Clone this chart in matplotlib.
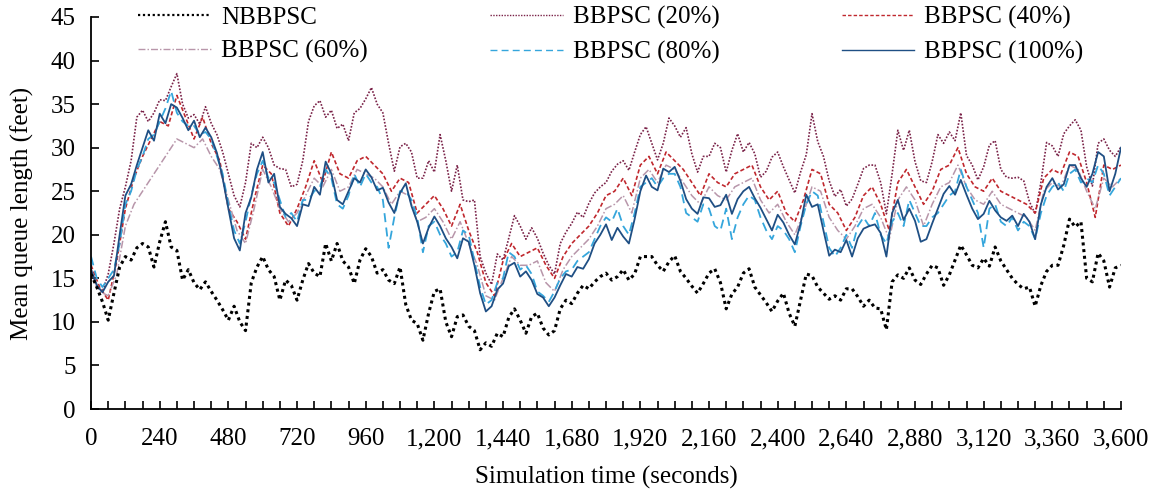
import matplotlib
matplotlib.use("Agg")
import matplotlib.pyplot as plt
import numpy as np

# time grids (seconds)
t20 = np.arange(0, 3601, 20)
t30 = np.arange(0, 3601, 30)

# NBBPSC, 20 s grid
nbbpsc = [15.5, 14.0, 12.3, 10.2, 13.3, 16.3, 17.5, 17.1, 18.5, 19.0, 18.6, 16.3, 19.2, 21.5, 18.6, 18.2,
          14.8, 16.0, 14.5, 13.7, 14.6, 13.5, 12.5, 11.4, 10.2, 11.8, 10.0, 9.0, 14.5, 16.3, 17.5, 16.0,
          15.2, 12.5, 14.8, 14.2, 12.5, 14.8, 16.7, 15.6, 15.2, 19.0, 17.0, 19.0, 17.0, 16.3, 14.4, 17.1,
          18.4, 17.5, 15.6, 16.0, 14.8, 14.4, 16.3, 12.0, 10.2, 9.8, 7.9, 11.0, 13.5, 13.8, 10.0, 8.3,
          10.6, 10.8, 9.5, 9.0, 6.8, 7.6, 7.2, 8.7, 8.3, 10.5, 11.5, 10.2, 8.7, 10.6, 11.0, 9.3,
          8.5, 9.0, 11.5, 12.5, 12.1, 13.3, 14.2, 13.8, 14.6, 15.2, 15.6, 14.8, 15.2, 16.0, 14.8, 15.5,
          17.5, 17.5, 17.5, 16.5, 15.8, 16.9, 17.6, 15.8, 15.0, 14.1, 13.3, 14.4, 15.6, 16.1, 14.5, 11.5,
          13.2, 14.0, 15.6, 16.1, 14.0, 13.1, 12.2, 11.2, 12.4, 13.3, 11.0, 9.5, 12.5, 15.5, 15.3, 14.0,
          13.3, 12.6, 13.0, 12.5, 13.8, 13.8, 12.9, 11.8, 12.5, 11.6, 11.5, 9.1, 14.6, 15.4, 15.0, 16.2,
          14.8, 14.3, 15.5, 16.5, 16.2, 14.2, 15.4, 17.1, 18.8, 17.7, 16.5, 16.2, 17.3, 16.4, 18.6, 17.0,
          16.0, 15.0, 14.3, 13.8, 14.0, 11.8, 14.2, 15.8, 16.5, 16.5, 18.8, 21.8, 20.9, 21.5, 15.0, 14.6,
          17.9, 17.0, 14.0, 16.2, 16.5]

# BBPSC (20%), 20 s grid
bb20 = [16.0, 14.0, 13.5, 15.5, 19.0, 23.0, 25.5, 28.5, 33.5, 34.3, 33.0, 34.0, 35.5, 35.4, 37.0, 38.5,
        35.0, 33.4, 33.8, 32.7, 34.7, 32.8, 31.5, 29.5, 27.0, 24.5, 23.2, 26.0, 30.5, 30.0, 31.2, 30.0,
        28.0, 27.6, 27.5, 25.5, 25.8, 28.5, 33.0, 34.8, 35.4, 33.5, 34.3, 32.2, 32.7, 30.8, 34.0, 34.5,
        35.6, 36.9, 35.0, 34.0, 30.5, 27.3, 30.1, 30.5, 29.5, 26.5, 26.5, 28.5, 27.2, 31.5, 28.5, 25.0,
        28.0, 24.0, 23.8, 24.0, 17.5, 15.6, 14.3, 17.8, 17.1, 19.6, 22.2, 21.0, 19.5, 20.8, 19.6, 17.9,
        16.5, 15.5, 19.0, 20.3, 21.3, 22.6, 22.0, 23.6, 24.8, 25.5, 26.0, 27.3, 28.1, 28.5, 27.4, 29.5,
        31.5, 32.4, 30.5, 28.6, 30.5, 33.4, 32.5, 31.2, 32.3, 29.3, 27.2, 29.0, 29.0, 30.5, 30.0, 27.2,
        29.7, 31.6, 29.5, 30.6, 29.3, 26.6, 27.3, 28.9, 29.5, 27.8, 26.3, 24.8, 27.2, 29.2, 33.9, 30.7,
        29.0, 26.2, 24.4, 25.2, 23.3, 24.1, 25.8, 27.6, 28.0, 28.0, 26.0, 22.4, 27.0, 32.0, 29.7, 32.0,
        28.4, 26.2, 26.0, 28.4, 31.5, 30.5, 31.8, 30.8, 34.0, 29.1, 28.0, 26.3, 27.8, 30.3, 30.8, 27.5,
        26.6, 26.5, 26.6, 26.2, 23.8, 22.4, 26.0, 30.6, 30.2, 29.0, 31.6, 32.5, 33.2, 32.0, 27.8, 25.6,
        30.5, 31.0, 29.7, 29.0, 30.1]

# BBPSC (40%), 30 s grid
bb40 = [16.5, 14.0, 12.5, 17.0, 23.0, 26.5, 29.0, 31.0, 33.0, 32.5, 36.0, 33.5, 31.0, 33.5, 30.5, 28.5,
        23.0, 21.5, 19.5, 24.0, 28.0, 27.0, 22.5, 21.0, 23.0, 25.5, 28.5, 26.0, 29.5, 27.0, 26.5, 28.5,
        29.0, 28.0, 27.0, 25.0, 26.5, 26.0, 22.5, 23.5, 24.5, 23.0, 21.0, 23.5, 20.5, 18.0, 14.5, 13.0,
        17.0, 19.0, 17.5, 18.0, 18.5, 16.5, 15.0, 17.5, 19.0, 20.0, 21.0, 22.5, 24.5, 25.0, 26.5, 24.5,
        28.0, 29.0, 27.0, 29.5, 28.5, 27.5, 26.0, 24.5, 27.0, 26.0, 25.5, 27.0, 27.5, 28.0, 25.5, 24.0,
        25.0, 22.5, 21.5, 24.0, 27.5, 27.0, 23.5, 22.5, 20.5, 22.0, 24.5, 25.5, 23.5, 20.5, 26.0, 27.5,
        25.5, 23.5, 25.0, 27.5, 28.0, 30.0, 27.0, 25.5, 25.0, 26.5, 25.0, 24.5, 24.0, 23.5, 22.5, 26.5,
        27.5, 27.0, 29.5, 29.0, 26.0, 22.0, 28.0, 27.5, 28.0]

# BBPSC (60%), 30 s grid
bb60 = [16.0, 13.5, 13.0, 15.5, 21.0, 23.5, 25.0, 26.5, 28.0, 29.5, 31.0, 30.5, 30.0, 31.0, 29.0, 27.5,
        24.0, 20.5, 19.0, 23.0, 27.5, 25.5, 23.0, 21.5, 22.5, 24.5, 26.5, 25.5, 27.5, 25.0, 25.5, 27.5,
        27.0, 26.5, 25.5, 23.5, 25.0, 24.5, 21.5, 22.0, 23.0, 21.5, 19.5, 21.5, 19.0, 16.5, 13.0, 12.5,
        15.0, 17.5, 16.5, 16.5, 17.0, 14.5, 13.5, 16.0, 17.5, 18.5, 19.5, 21.0, 23.0, 23.5, 24.5, 22.5,
        26.5, 27.5, 26.0, 28.0, 27.5, 26.0, 24.5, 23.5, 25.5, 24.5, 24.0, 25.5, 26.0, 26.5, 24.0, 22.5,
        23.5, 21.5, 20.0, 22.5, 25.5, 25.0, 22.0, 20.5, 19.5, 21.0, 23.0, 23.5, 22.0, 19.5, 24.0, 25.5,
        24.0, 21.0, 23.5, 25.5, 26.0, 28.0, 25.5, 24.0, 23.5, 25.0, 23.5, 23.0, 22.5, 22.0, 20.5, 25.0,
        26.0, 25.5, 28.0, 27.5, 25.0, 23.0, 26.5, 25.5, 26.5]

# BBPSC (80%), 20 s grid
bb80 = [17.5, 15.0, 14.0, 15.0, 16.0, 19.0, 23.5, 25.0, 27.5, 29.0, 31.0, 31.5, 33.0, 34.5, 36.5, 34.0,
        33.0, 32.5, 32.5, 31.5, 31.8, 31.0, 29.0, 27.0, 23.5, 20.5, 19.0, 21.5, 24.5, 27.0, 28.5, 26.5,
        26.0, 24.0, 22.0, 22.5, 21.5, 24.0, 24.0, 25.0, 25.5, 27.5, 26.5, 23.5, 23.0, 24.5, 27.0, 25.5,
        27.0, 26.0, 25.5, 24.0, 18.5, 22.0, 25.0, 25.0, 24.0, 22.0, 18.0, 21.0, 21.5, 20.0, 19.0, 17.5,
        18.0, 20.5, 20.0, 17.0, 14.0, 12.0, 12.5, 14.5, 15.0, 18.0, 17.5, 16.0, 16.5, 15.5, 13.5, 13.0,
        12.3, 13.5, 15.0, 15.8, 16.0, 17.0, 17.5, 18.0, 19.5, 21.0, 22.0, 21.5, 23.0, 21.0, 20.0, 22.5,
        25.5, 26.0, 26.5, 25.5, 26.5, 27.0, 27.0, 25.5, 22.5, 22.0, 21.5, 23.5, 23.0, 21.0, 20.5, 23.0,
        19.5, 22.0, 23.5, 24.5, 24.0, 22.0, 20.5, 19.5, 21.0, 20.5, 19.5, 18.0, 21.0, 23.5, 25.0, 24.5,
        21.5, 18.5, 17.5, 18.5, 20.0, 18.5, 21.0, 22.0, 21.0, 22.5, 20.0, 19.0, 21.5, 22.5, 21.0, 24.0,
        22.5, 21.0, 21.0, 22.0, 22.5, 23.5, 24.5, 25.0, 27.5, 25.5, 24.0, 22.5, 18.5, 23.0, 23.5, 21.5,
        21.0, 22.0, 20.5, 21.5, 21.0, 19.5, 22.5, 24.5, 25.5, 26.0, 25.0, 27.0, 27.5, 26.0, 26.5, 26.0,
        28.0, 27.0, 24.5, 25.5, 26.5]

# BBPSC (100%), 20 s grid
bb100 = [16.0, 14.2, 13.4, 14.6, 15.3, 20.0, 24.5, 25.8, 28.0, 30.0, 32.0, 30.8, 33.9, 32.8, 35.0, 34.6,
         33.4, 32.0, 33.1, 31.2, 32.3, 31.2, 29.4, 26.5, 23.0, 19.6, 18.2, 22.5, 24.3, 27.5, 29.5, 26.0,
         27.0, 23.2, 22.4, 21.9, 21.0, 23.5, 23.3, 25.5, 24.6, 28.4, 27.0, 24.0, 23.5, 25.0, 26.5, 26.0,
         27.5, 26.6, 25.1, 25.4, 23.7, 22.5, 24.8, 25.9, 23.3, 21.5, 19.0, 20.8, 22.1, 21.0, 19.6, 18.6,
         17.3, 19.6, 19.2, 16.5, 13.3, 11.2, 11.8, 13.7, 14.4, 16.4, 16.8, 15.2, 15.8, 14.8, 13.2, 12.8,
         11.8, 12.8, 14.2, 15.5, 15.2, 16.3, 16.1, 17.2, 19.0, 20.0, 21.2, 19.4, 20.8, 19.8, 19.0, 21.8,
         25.0, 26.8, 25.5, 25.1, 27.6, 27.2, 27.8, 26.2, 24.1, 23.0, 22.4, 24.3, 24.2, 23.2, 23.4, 24.6,
         22.4, 24.1, 25.0, 25.5, 24.2, 23.1, 21.8, 20.5, 22.3, 21.4, 20.0, 18.9, 21.3, 24.6, 23.2, 23.5,
         20.5, 17.6, 18.3, 18.0, 19.4, 17.5, 19.6, 20.7, 21.0, 21.2, 20.2, 17.5, 22.5, 24.0, 21.7, 23.0,
         21.6, 19.2, 19.5, 21.3, 23.0, 24.7, 25.6, 24.6, 26.3, 24.6, 23.0, 21.8, 22.4, 23.9, 22.8, 22.0,
         21.6, 22.2, 21.0, 22.4, 21.5, 19.5, 23.5, 25.5, 26.5, 25.2, 25.8, 28.0, 28.0, 26.5, 25.5, 27.0,
         29.5, 29.0, 25.0, 27.0, 30.0]

plt.rcParams['font.family'] = ['Liberation Serif', 'DejaVu Serif']
plt.rcParams['font.size'] = 18

fig = plt.figure(figsize=(11.54, 4.94), dpi=100)
ax = fig.add_axes([0.0789, 0.172, 0.8925, 0.7936])

l20, = ax.plot(t20, bb20, color='#7a2248', lw=1.2, ls=(0, (1, 1)), label='BBPSC (20%)')
l40, = ax.plot(t30, bb40, color='#c0282e', lw=1.2, ls=(0, (2.5, 1.5)), label='BBPSC (40%)')
l60, = ax.plot(t30, bb60, color='#b896aa', lw=1.1, ls=(0, (5, 1.5, 1, 1.5)), label='BBPSC (60%)')
l80, = ax.plot(t20, bb80, color='#35a6dc', lw=1.3, ls=(0, (5, 3)), label='BBPSC (80%)')
l100, = ax.plot(t20, bb100, color='#1f4f84', lw=1.3, ls='-', label='BBPSC (100%)')
lnb, = ax.plot(t20, nbbpsc, color='black', lw=2.2, ls=(0, (1, 1.2)), label='NBBPSC')

ax.set_xlim(0, 3600)
ax.set_ylim(0, 45)
ax.set_yticks(np.arange(0, 46, 5))
ax.set_xticks(np.arange(0, 3601, 60))
ax.set_xticklabels(['{:,}'.format(v) if v % 240 == 0 else '' for v in range(0, 3601, 60)])
ax.tick_params(direction='in', length=6, width=1.2)
ax.tick_params(axis='x', pad=14)
ax.tick_params(axis='y', pad=11)
for s in ['top', 'right']:
    ax.spines[s].set_visible(False)
for s in ['left', 'bottom']:
    ax.spines[s].set_linewidth(1.3)

ax.set_xlabel('Simulation time (seconds)', labelpad=11)
ax.set_ylabel('Mean queue length (feet)', labelpad=12)

handles = [lnb, l60, l20, l80, l40, l100]
leg = ax.legend(handles=handles, labels=[h.get_label() for h in handles], ncol=3, frameon=False,
                loc='upper left', bbox_to_anchor=(0.041, 1.04), handlelength=2.9, handletextpad=0.4,
                columnspacing=4.9, labelspacing=0.45, borderpad=0.2, borderaxespad=0)
for h in leg.legend_handles:
    h.set_linewidth(1.0)
leg.legend_handles[0].set_linewidth(1.6)

fig.savefig('out.png', dpi=100)
